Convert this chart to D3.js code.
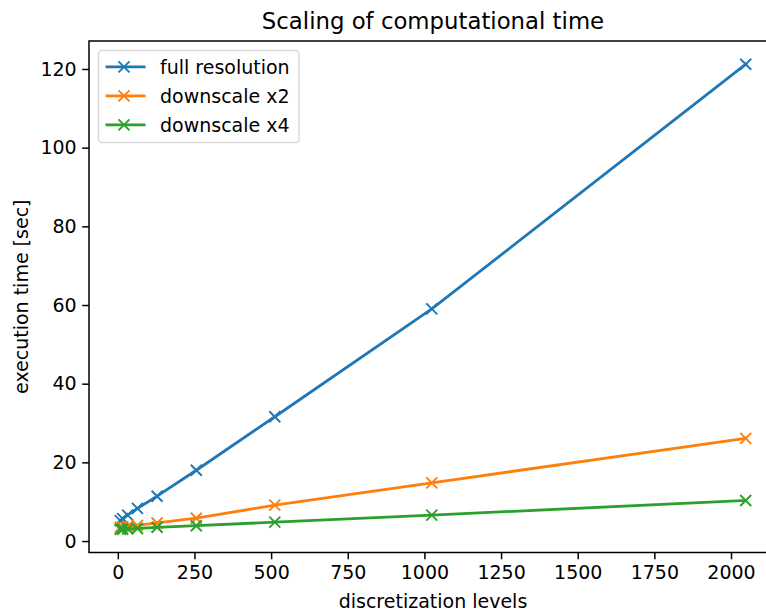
<!DOCTYPE html>
<html>
<head>
<script src="https://d3js.org/d3.v7.min.js"></script>
<style>
  body { margin: 0; background: #fff; overflow: hidden; }
  svg { display: block; }
  text { font-family: "DejaVu Sans", sans-serif; fill: #000; }
</style>
</head>
<body>
<div id="chart"></div>
<script>
const levels = [8, 16, 32, 64, 128, 256, 512, 1024, 2048];
const fullRes = [5.2, 5.7, 6.6, 8.3, 11.4, 18.0, 31.6, 59.0, 121.2];
const down2 = [3.5, 3.6, 3.7, 4.0, 4.6, 5.8, 9.15, 14.8, 26.1];
const down4 = [3.0, 3.0, 3.1, 3.2, 3.5, 3.9, 4.8, 6.6, 10.3];
const seriesNames = ["full resolution", "downscale x2", "downscale x4"];
const seriesColors = ["#1f77b4", "#ff7f0e", "#2ca02c"];
const xTicks = [0, 250, 500, 750, 1000, 1250, 1500, 1750, 2000];
const yTicks = [0, 20, 40, 60, 80, 100, 120];

const W = 766, H = 612;
const plot = { left: 89, right: 777, top: 41, bottom: 552.5 };
const fs = "19px";

const svg = d3.select("#chart").append("svg")
    .attr("width", W).attr("height", H);

const series = [fullRes, down2, down4].map((vals, i) => ({
    name: seriesNames[i],
    color: seriesColors[i],
    points: levels.map((x, j) => ({ x: x, y: vals[j] }))
}));

// matplotlib style 5% margins
function padded(ext) {
    const d = (ext[1] - ext[0]) * 0.05;
    return [ext[0] - d, ext[1] + d];
}
const allY = fullRes.concat(down2, down4);

const x = d3.scaleLinear().domain(padded(d3.extent(levels))).range([plot.left, plot.right]);
const y = d3.scaleLinear().domain(padded(d3.extent(allY))).range([plot.bottom, plot.top]);

// axes
const xAxis = svg.append("g")
    .attr("transform", `translate(0,${plot.bottom})`)
    .call(d3.axisBottom(x).tickValues(xTicks).tickSize(6.8).tickPadding(6).tickFormat(d3.format("d")));
const yAxis = svg.append("g")
    .attr("transform", `translate(${plot.left},0)`)
    .call(d3.axisLeft(y).tickValues(yTicks).tickSize(6.8).tickPadding(5.5).tickFormat(d3.format("d")));

[xAxis, yAxis].forEach(g => {
    g.select(".domain").remove();
    g.selectAll(".tick line").attr("stroke", "#000").attr("stroke-width", 1.5);
    g.selectAll(".tick text").style("font-size", fs).attr("fill", "#000");
});

// lines and markers
const line = d3.line().x(d => x(d.x)).y(d => y(d.y));

const g = svg.append("g");
series.forEach(s => {
    g.append("path")
        .datum(s.points)
        .attr("d", line)
        .attr("fill", "none")
        .attr("stroke", s.color)
        .attr("stroke-width", 2.8)
        .attr("stroke-linejoin", "round")
        .attr("stroke-linecap", "square");
    const m = 5.5;
    g.selectAll(null).data(s.points).join("path")
        .attr("d", d => {
            const cx = x(d.x), cy = y(d.y);
            return `M${cx - m},${cy - m}L${cx + m},${cy + m}M${cx - m},${cy + m}L${cx + m},${cy - m}`;
        })
        .attr("stroke", s.color)
        .attr("stroke-width", 1.9)
        .attr("fill", "none");
});

// spines
svg.append("rect")
    .attr("x", plot.left).attr("y", plot.top)
    .attr("width", plot.right - plot.left).attr("height", plot.bottom - plot.top)
    .attr("fill", "none").attr("stroke", "#000").attr("stroke-width", 1.5);

// title and labels
svg.append("text")
    .attr("x", (plot.left + plot.right) / 2).attr("y", 29)
    .attr("text-anchor", "middle")
    .style("font-size", "22.8px")
    .text("Scaling of computational time");

svg.append("text")
    .attr("x", (plot.left + plot.right) / 2).attr("y", 608)
    .attr("text-anchor", "middle")
    .style("font-size", fs)
    .text("discretization levels");

svg.append("text")
    .attr("transform", `translate(28,${(plot.top + plot.bottom) / 2}) rotate(-90)`)
    .attr("text-anchor", "middle")
    .style("font-size", fs)
    .text("execution time [sec]");

// legend
const lg = svg.append("g").attr("transform", "translate(98.5,50.5)");
lg.append("rect")
    .attr("width", 200.5).attr("height", 92)
    .attr("rx", 3.5)
    .attr("fill", "#fff").attr("fill-opacity", 0.8)
    .attr("stroke", "#d9d9d9").attr("stroke-width", 1.4);

series.forEach((s, i) => {
    const row = lg.append("g").attr("transform", `translate(0,${16.3 + i * 29})`);
    row.append("line")
        .attr("x1", 7).attr("x2", 47)
        .attr("stroke", s.color).attr("stroke-width", 2.8);
    row.append("path")
        .attr("d", "M20,-5.5L31,5.5M20,5.5L31,-5.5")
        .attr("stroke", s.color).attr("stroke-width", 1.9);
    row.append("text")
        .attr("x", 61.5).attr("y", 7)
        .style("font-size", fs)
        .text(s.name);
});
</script>
</body>
</html>
